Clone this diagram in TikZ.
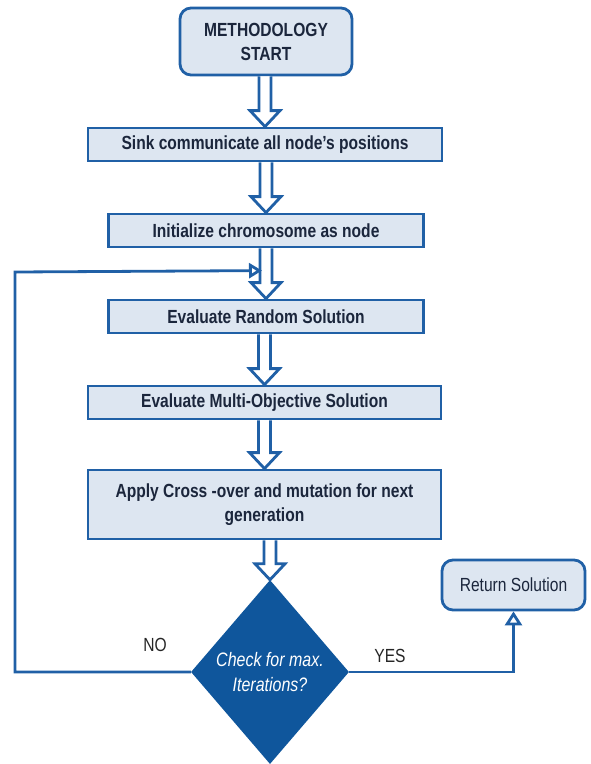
\documentclass[tikz,border=0pt]{standalone}
\usepackage{fontspec}
\setmainfont{Liberation Sans}[FakeStretch=0.82]
\usetikzlibrary{shapes.geometric,arrows.meta,calc}

\definecolor{flowblue}{RGB}{32,96,166}
\definecolor{diamondblue}{RGB}{15,86,156}
\definecolor{boxfill}{RGB}{221,230,241}
\definecolor{inkblue}{RGB}{27,38,60}

\tikzset{
  stepbox/.style={draw=flowblue, line width=2.8pt, fill=boxfill, text=inkblue,
    font=\bfseries\fontsize{19}{24}\selectfont, align=center, inner sep=0pt},
  roundbox/.style={stepbox, rounded corners=11pt},
  hollowarrow/.style={draw=flowblue, line width=2.8pt, fill=white},
  loopline/.style={draw=flowblue, line width=2.8pt},
  plainlabel/.style={font=\fontsize{19}{22}\selectfont, text=black!85},
}

% hollow block arrow from one step to the next
\newcommand{\flowarrow}[2]{%
  \draw[hollowarrow] ($(#2.north |- #1.south)+(-6,0)$) -- ($(#2.north)+(-6,-16)$)
    -- ++(-9,0) -- (#2.north) -- ($(#2.north)+(15,-16)$) -- ++(-9,0)
    -- ($(#2.north |- #1.south)+(6,0)$);
}

\begin{document}
\begin{tikzpicture}[x=1pt, y=-1pt]
  \useasboundingbox (0,0) rectangle (591,764);

  % Steps of the flow
  \node[roundbox, minimum width=172pt, minimum height=67pt] (start) at (266,41.5)
    {METHODOLOGY\\START};
  \node[stepbox, minimum width=354pt, minimum height=33pt] (sink) at (265,144.5)
    {Sink communicate all node's positions};
  \node[stepbox, minimum width=315pt, minimum height=33pt] (init) at (266,230.5)
    {Initialize chromosome as node};
  \node[stepbox, minimum width=315pt, minimum height=33pt] (eval) at (266,316.5)
    {Evaluate Random Solution};
  \node[stepbox, minimum width=353pt, minimum height=33pt] (multi) at (264.5,402.5)
    {Evaluate Multi-Objective Solution};
  \node[stepbox, minimum width=353pt, minimum height=69pt] (apply) at (264.5,504.5)
    {Apply Cross -over and mutation for next\\generation};

  % Decision and result
  \node[diamond, fill=diamondblue, text=white, inner sep=0pt, aspect=0.86,
    minimum width=158pt, minimum height=184pt, align=center,
    font=\itshape\fontsize{19.5}{25}\selectfont] (check) at (270,672)
    {Check for max.\\Iterations?};
  \node[roundbox, font=\fontsize{19}{22}\selectfont, minimum width=143pt,
    minimum height=50pt] (ret) at (513.5,585) {Return Solution};

  % Arrows between steps
  \flowarrow{start}{sink}
  \flowarrow{sink}{init}
  \flowarrow{init}{eval}
  \flowarrow{eval}{multi}
  \flowarrow{multi}{apply}
  \flowarrow{apply}{check}

  % NO loop back to the evaluation
  \coordinate (loopin) at ($(eval.north)+(-4,-28)$);
  \draw[loopline, -{Triangle[open, length=13pt, width=15pt]}]
    (check.west) -- (15,672) -- (15,272) -- (loopin);
  \node[plainlabel] (no) at (155,645) {NO};

  % YES to the result
  \draw[loopline, -{Triangle[open, length=14pt, width=17pt]}]
    (check.east) -- (check.east -| ret.south) -- (ret.south);
  \node[plainlabel] (yes) at (390,656) {YES};
\end{tikzpicture}
\end{document}
